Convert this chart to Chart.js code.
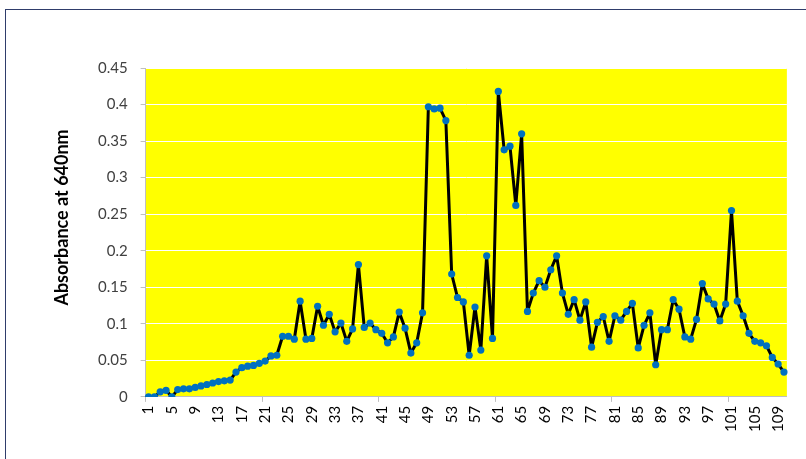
<!DOCTYPE html>
<html>
<head>
<meta charset="utf-8">
<script src="https://cdn.jsdelivr.net/npm/chart.js@4.4.1/dist/chart.umd.min.js"></script>
<style>
  html, body { margin: 0; padding: 0; background: #fff; }
  #frame {
    position: absolute; left: 5px; top: 9px; width: 820px; height: 470px;
    border-left: 1px solid #2f3d6b; border-top: 1px solid #2f3d6b;
  }
  #wrap { position: absolute; left: 0; top: 0; width: 806px; height: 459px; }
</style>
</head>
<body>
<div id="frame"></div>
<div id="wrap"><canvas id="chart"></canvas></div>
<script>
'use strict';

// ── Data ─────────────────────────────────────────────
const fractions = [
  '1','2','3','4','5','6','7','8','9','10',
  '11','12','13','14','15','16','17','18','19','20',
  '21','22','23','24','25','26','27','28','29','30',
  '31','32','33','34','35','36','37','38','39','40',
  '41','42','43','44','45','46','47','48','49','50',
  '51','52','53','54','55','56','57','58','59','60',
  '61','62','63','64','65','66','67','68','69','70',
  '71','72','73','74','75','76','77','78','79','80',
  '81','82','83','84','85','86','87','88','89','90',
  '91','92','93','94','95','96','97','98','99','100',
  '101','102','103','104','105','106','107','108','109','110'
];

const absorbance = [
  0.000, 0.000, 0.007, 0.009, 0.000, 0.010, 0.011, 0.011, 0.013, 0.015,
  0.017, 0.019, 0.021, 0.022, 0.023, 0.034, 0.040, 0.042, 0.043, 0.046,
  0.049, 0.056, 0.057, 0.083, 0.083, 0.079, 0.131, 0.079, 0.080, 0.124,
  0.098, 0.113, 0.089, 0.101, 0.076, 0.093, 0.181, 0.095, 0.101, 0.092,
  0.087, 0.074, 0.082, 0.116, 0.094, 0.060, 0.074, 0.115, 0.397, 0.394,
  0.395, 0.378, 0.168, 0.136, 0.130, 0.057, 0.123, 0.064, 0.193, 0.080,
  0.418, 0.338, 0.343, 0.262, 0.360, 0.117, 0.142, 0.159, 0.150, 0.174,
  0.193, 0.142, 0.113, 0.133, 0.105, 0.130, 0.068, 0.102, 0.110, 0.076,
  0.111, 0.105, 0.117, 0.128, 0.067, 0.098, 0.115, 0.044, 0.092, 0.092,
  0.133, 0.120, 0.082, 0.079, 0.106, 0.155, 0.134, 0.127, 0.104, 0.127,
  0.255, 0.131, 0.111, 0.087, 0.076, 0.074, 0.070, 0.054, 0.045, 0.034
];

const yTitle = 'Absorbance at 640nm';

const FONT = "Lato, 'Open Sans', sans-serif";

// ── Yellow plot area ─────────────────────────────────
const plotFill = {
  id: 'plotFill',
  beforeDraw(chart) {
    const { ctx, chartArea: a } = chart;
    ctx.save();
    ctx.fillStyle = '#ffff00';
    ctx.fillRect(a.left, a.top, a.right - a.left, a.bottom - a.top);
    ctx.restore();
  }
};

// ── Axis title (Excel puts it a bit above plot centre) ──
const axisTitle = {
  id: 'axisTitle',
  afterDraw(chart) {
    const { ctx, chartArea: a } = chart;
    ctx.save();
    ctx.translate(62, (a.top + a.bottom) / 2 - 15);
    ctx.rotate(-Math.PI / 2);
    ctx.font = 'bold 18px ' + FONT;
    ctx.fillStyle = '#000000';
    ctx.textAlign = 'center';
    ctx.textBaseline = 'middle';
    ctx.fillText(yTitle, 0, 0);
    ctx.restore();
  }
};

new Chart(document.getElementById('chart'), {
  type: 'line',
  data: {
    labels: fractions,
    datasets: [{
      data: absorbance,
      borderColor: '#000000',
      borderWidth: 3,
      borderJoinStyle: 'round',
      borderCapStyle: 'round',
      pointRadius: 3.6,
      pointBackgroundColor: '#0070c0',
      pointBorderWidth: 0,
      tension: 0,
    }],
  },
  options: {
    responsive: true,
    maintainAspectRatio: false,
    animation: false,
    layout: { padding: { left: 85, right: 10, top: 68, bottom: 23 } },
    plugins: {
      legend: { display: false },
      tooltip: { enabled: false },
    },
    scales: {
      x: {
        offset: true,
        border: { color: '#bfbfbf', width: 1 },
        grid: {
          offset: true,
          drawOnChartArea: false,
          tickLength: 5,
          color: ctx => (ctx.index % 20 === 0 ? '#bfbfbf' : 'rgba(0,0,0,0)'),
        },
        ticks: {
          autoSkip: false,
          minRotation: 90,
          maxRotation: 90,
          padding: 4,
          color: '#000000',
          font: { family: FONT, size: 15 },
          callback: (v, i) => (i % 4 === 0 ? fractions[i] : ''),
        },
      },
      y: {
        min: 0,
        max: 0.45,
        border: { color: '#bfbfbf', width: 1 },
        grid: { color: '#ffffff', tickColor: '#bfbfbf', tickLength: 5 },
        ticks: {
          stepSize: 0.05,
          padding: 13,
          color: '#404040',
          font: { family: FONT, size: 15 },
          callback: v => String(Number(v.toFixed(2))),
        },
      },
    },
  },
  plugins: [plotFill, axisTitle],
});
</script>
</body>
</html>
